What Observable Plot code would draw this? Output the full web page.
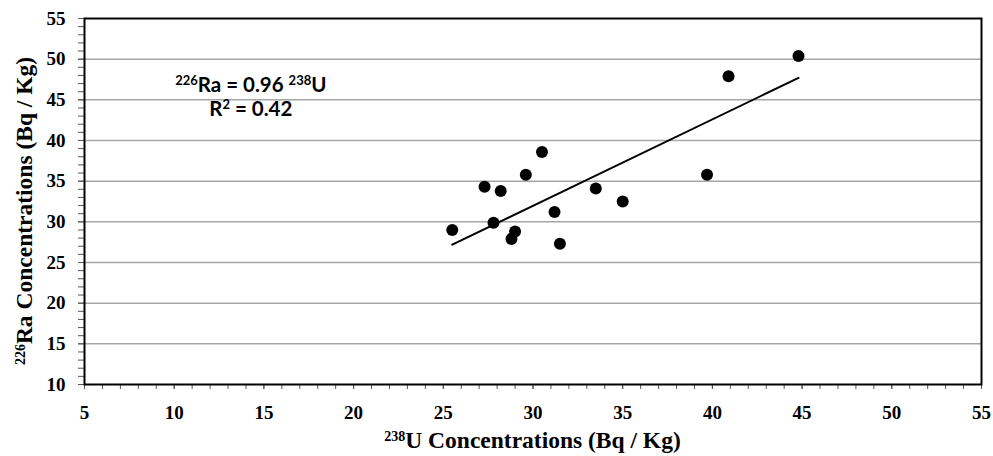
<!DOCTYPE html>
<html><head><meta charset="utf-8">
<script src="https://cdn.jsdelivr.net/npm/d3@7"></script>
<script src="https://cdn.jsdelivr.net/npm/@observablehq/plot@0.6"></script>
<style>body{margin:0;background:#fff} svg{display:block;background:#fff}</style>
</head><body><div id="chart"></div>
<script>
// 238U and 226Ra concentrations (Bq/Kg)
const uConc  = [44.8, 40.9, 30.5, 29.6, 39.7, 27.3, 28.2, 33.5, 35.0, 31.2, 27.8, 25.5, 29.0, 28.8, 31.5];
const raConc = [50.4, 47.9, 38.6, 35.8, 35.8, 34.3, 33.8, 34.1, 32.5, 31.2, 29.9, 29.0, 28.8, 27.9, 27.3];
// fitted trend line end points
const trendU  = [25.5, 44.8];
const trendRa = [27.2, 47.7];
// axis ticks
const xMajor = [5, 10, 15, 20, 25, 30, 35, 40, 45, 50, 55];
const yMajor = [10, 15, 20, 25, 30, 35, 40, 45, 50, 55];
const xMinor = d3.range(5, 56, 1);
const yMinor = d3.range(10, 56, 1);
const gridLines = [15, 20, 25, 30, 35, 40, 45, 50];
// texts
const xTitle = {sup: "238", main: "U Concentrations (Bq / Kg)"};
const yTitle = {sup: "226", main: "Ra Concentrations (Bq / Kg)"};
const eqLine1 = ["226", "Ra = 0.96 ", "238", "U"];
const eqLine2 = ["R", "2", " = 0.42"];
const eqPos = {x: 14.3, y: 45.9};

const points = uConc.map((u, i) => ({u, ra: raConc[i]}));
const trend = trendU.map((u, i) => ({u, ra: trendRa[i]}));

const serif = "'Liberation Serif', 'Times New Roman', serif";

const plot = Plot.plot({
  width: 993,
  height: 456,
  marginLeft: 84,
  marginRight: 12,
  marginTop: 18,
  marginBottom: 72,
  style: {fontFamily: serif, background: "#fff"},
  x: {domain: [5, 55]},
  y: {domain: [10, 55]},
  marks: [
    Plot.gridY(gridLines, {stroke: "#a6a6a6", strokeOpacity: 1, strokeWidth: 1.5}),
    Plot.axisX(xMinor, {tickSize: 5, tickFormat: () => "", label: null, stroke: "#555"}),
    Plot.axisY(yMinor, {tickSize: 6, tickFormat: () => "", label: null, stroke: "#555"}),
    Plot.axisX(xMajor, {tickSize: 5, tickPadding: 16, fontSize: 19, fontWeight: "bold", label: null, stroke: "#555", fill: "#000"}),
    Plot.axisY(yMajor, {tickSize: 6, tickPadding: 13, fontSize: 19, fontWeight: "bold", label: null, stroke: "#555", fill: "#000"}),
    Plot.frame({stroke: "#000", strokeWidth: 2}),
    Plot.line(trend, {x: "u", y: "ra", stroke: "#000", strokeWidth: 2}),
    Plot.dot(points, {x: "u", y: "ra", r: 6, fill: "#000", stroke: "none"})
  ]
});

document.getElementById("chart").appendChild(plot);

const svg = d3.select(plot);
svg.selectAll("g[aria-label$='tick label'], g[aria-label$='tick label'] text")
  .style("font-family", serif).style("font-weight", "bold");
const sx = plot.scale("x"), sy = plot.scale("y");

// x axis title
const xt = svg.append("text")
  .attr("x", (sx.apply(5) + sx.apply(55)) / 2)
  .attr("y", 448)
  .attr("text-anchor", "middle")
  .style("font-family", serif).style("font-weight", "bold").style("font-size", "23.5px").attr("fill", "#000");
xt.append("tspan").style("font-size", "14px").attr("dy", -7.5).text(xTitle.sup);
xt.append("tspan").attr("dy", 7.5).text(xTitle.main);

// y axis title
const yc = (sy.apply(10) + sy.apply(55)) / 2 + 10;
const yt = svg.append("text")
  .attr("transform", `translate(32,${yc}) rotate(-90)`)
  .attr("text-anchor", "middle")
  .style("font-family", serif).style("font-weight", "bold").style("font-size", "23.5px").attr("fill", "#000");
yt.append("tspan").style("font-size", "14px").attr("dy", -7.5).text(yTitle.sup);
yt.append("tspan").attr("dy", 7.5).text(yTitle.main);

// regression equation
const sans = "Lato, 'Open Sans', sans-serif";
const ex = sx.apply(eqPos.x), ey = sy.apply(eqPos.y);
const e1 = svg.append("text").attr("x", ex).attr("y", ey)
  .attr("text-anchor", "middle").style("font-family", sans).style("font-weight", "bold").style("font-size", "20.5px").attr("fill", "#000");
e1.append("tspan").style("font-size", "13px").attr("dy", -7).text(eqLine1[0]);
e1.append("tspan").attr("dy", 7).text(eqLine1[1]);
e1.append("tspan").style("font-size", "13px").attr("dy", -7).text(eqLine1[2]);
e1.append("tspan").attr("dy", 7).text(eqLine1[3]);
const e2 = svg.append("text").attr("x", ex).attr("y", ey + 24)
  .attr("text-anchor", "middle").style("font-family", sans).style("font-weight", "bold").style("font-size", "20.5px").attr("fill", "#000");
e2.append("tspan").text(eqLine2[0]);
e2.append("tspan").style("font-size", "13px").attr("dy", -7).text(eqLine2[1]);
e2.append("tspan").attr("dy", 7).text(eqLine2[2]);
</script>
</body></html>
